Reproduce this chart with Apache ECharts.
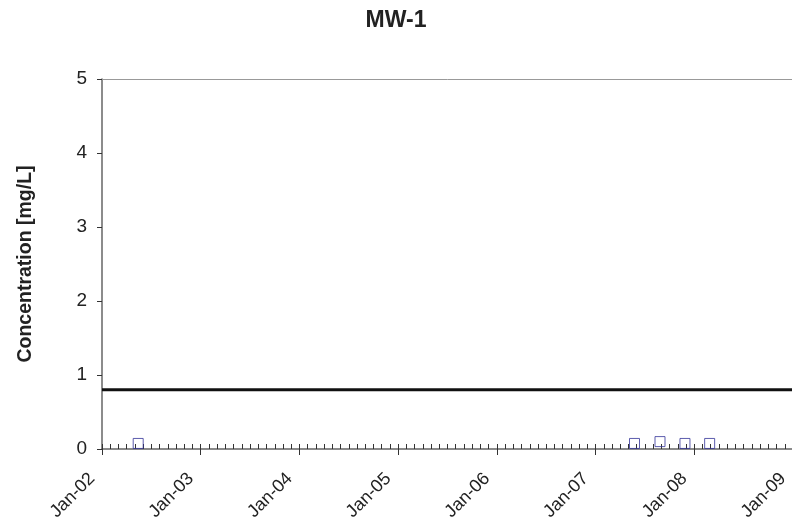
<!DOCTYPE html>
<html>
<head>
<meta charset="utf-8">
<script src="https://cdn.jsdelivr.net/npm/echarts@6/dist/echarts.min.js"></script>
<style>html,body{margin:0;padding:0;background:#fff}#c{width:792px;height:522px}</style>
</head>
<body>
<div id="c"></div>
<script>
const title = 'MW-1';
const yAxisTitle = 'Concentration [mg/L]';
const sampleDates = ['2002-05-13', '2007-05-23', '2007-08-26', '2007-11-27', '2008-02-27'];
const sampleValues = [0.075, 0.075, 0.1, 0.075, 0.075];
const standardValue = 0.8;
const startYear = 2002;
const endYear = 2009;
const yTicks = [0, 1, 2, 3, 4, 5];

function monthIndex(d) {
  const [y, m, day] = d.split('-').map(Number);
  return (y - startYear) * 12 + (m - 1) + (day - 1) / 30;
}
const xMax = (endYear - startYear) * 12;
const points = sampleDates.map((d, i) => [monthIndex(d), sampleValues[i]]);
const standardLine = [[0, standardValue], [xMax, standardValue]];

const font = '"Liberation Sans", Arial, sans-serif';
const chart = echarts.init(document.getElementById('c'), null, {renderer: 'canvas'});
chart.setOption({
  animation: false,
  title: {
    text: title, left: 'center', top: 4,
    textStyle: {fontFamily: font, fontSize: 23, fontWeight: 'bold', color: '#222'}
  },
  grid: {left: 102, right: -1, top: 79, bottom: 73, containLabel: false, outerBoundsMode: 'none'},
  xAxis: [
    {
      type: 'value', min: 0, max: xMax, interval: 12,
      axisLine: {show: true, lineStyle: {color: '#666', width: 1.5}},
      axisTick: {show: true, inside: false, length: 6, lineStyle: {color: '#333'}},
      minorTick: {show: false},
      splitLine: {show: false},
      axisLabel: {
        rotate: 45, margin: 17, padding: [0, 14, 0, 0], fontFamily: font, fontSize: 18, color: '#222',
        formatter: v => 'Jan-' + String((startYear + v / 12) % 100).padStart(2, '0')
      }
    },
    {
      type: 'value', min: 0, max: xMax, interval: 12, position: 'bottom', offset: 0,
      axisLine: {show: false},
      axisTick: {show: true, inside: true, length: 5, lineStyle: {color: '#333'}},
      minorTick: {show: true, splitNumber: 12, length: 5, lineStyle: {color: '#333'}},
      splitLine: {show: false},
      axisLabel: {show: false}
    },
    {
      type: 'value', min: 0, max: xMax, position: 'top',
      axisLine: {show: true, lineStyle: {color: '#999', width: 1}},
      axisTick: {show: false}, axisLabel: {show: false}, splitLine: {show: false}
    }
  ],
  yAxis: {
    type: 'value', min: yTicks[0], max: yTicks[yTicks.length - 1], interval: 1,
    name: yAxisTitle, nameLocation: 'middle', nameGap: 66,
    nameTextStyle: {fontFamily: font, fontSize: 19.5, fontWeight: 'bold', color: '#222'},
    axisLine: {show: true, lineStyle: {color: '#666', width: 1.5}},
    axisTick: {show: true, inside: false, length: 5, lineStyle: {color: '#333'}},
    splitLine: {show: false},
    axisLabel: {margin: 15, fontFamily: font, fontSize: 19, color: '#222'}
  },
  series: [
    {
      type: 'line', data: standardLine, xAxisIndex: 0, symbol: 'none',
      lineStyle: {color: '#111', width: 3}, z: 3
    },
    {
      type: 'scatter', data: points, xAxisIndex: 0, symbol: 'rect', symbolSize: 10,
      itemStyle: {color: 'rgba(255,255,255,0)', borderColor: '#333399', borderWidth: 1}, z: 4
    }
  ]
});
</script>
</body>
</html>
